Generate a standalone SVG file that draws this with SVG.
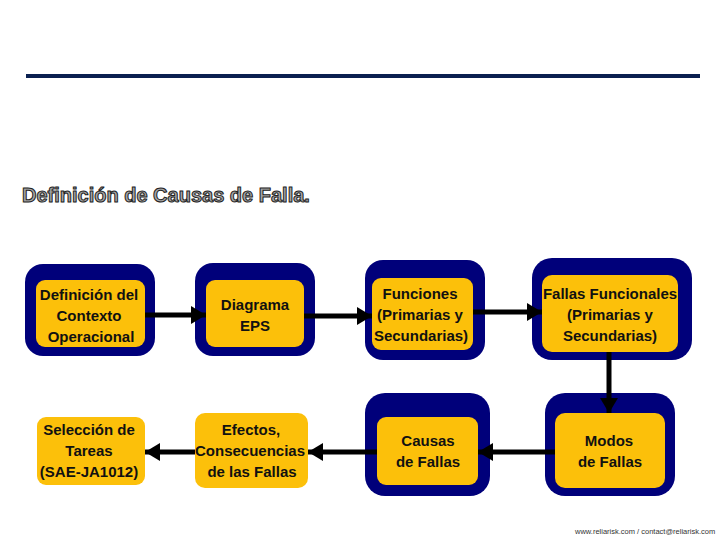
<svg xmlns="http://www.w3.org/2000/svg" width="720" height="540" viewBox="0 0 720 540">
<style>
.outer{fill:#00007a;}
.inner{fill:#fcc00a;}
.lbl{font-family:"Liberation Sans",Arial,sans-serif;font-weight:bold;font-size:15px;fill:#111;text-anchor:middle;}
.con{stroke:#000;stroke-width:5;fill:none;}
.title{font-family:"Liberation Sans",Arial,sans-serif;font-weight:bold;font-size:20px;fill:#a6a6a6;stroke:#222;stroke-width:1;}
.foot{font-family:"Liberation Sans",Arial,sans-serif;font-size:7.5px;fill:#333;}
</style>
<defs>
<marker id="ah" markerWidth="4" markerHeight="4" refX="3" refY="2" orient="auto" markerUnits="strokeWidth">
<path d="M0,0.2 L3,2 L0,3.8 Z" fill="#000"/>
</marker>
</defs>
<rect x="26" y="74" width="674" height="4" fill="#0a2050"/>
<text class="title" x="22" y="202">Definición de Causas de Falla.</text>

<g id="n1">
<rect class="outer" x="25" y="264" width="130" height="92" rx="18"/>
<rect class="inner" x="36" y="280" width="109" height="67" rx="9"/>
<text class="lbl" x="89" y="300">Definición del</text>
<text class="lbl" x="89" y="321">Contexto</text>
<text class="lbl" x="91" y="342">Operacional</text>
</g>
<g id="n2">
<rect class="outer" x="195" y="263" width="120" height="93" rx="18"/>
<rect class="inner" x="206" y="280" width="98" height="67" rx="9"/>
<text class="lbl" x="255" y="310">Diagrama</text>
<text class="lbl" x="255" y="331">EPS</text>
</g>
<g id="n3">
<rect class="outer" x="365" y="260" width="120" height="100" rx="18"/>
<rect class="inner" x="372" y="278" width="101" height="72" rx="9"/>
<text class="lbl" x="420" y="299">Funciones</text>
<text class="lbl" x="420" y="320">(Primarias y</text>
<text class="lbl" x="421" y="341">Secundarias)</text>
</g>
<g id="n4">
<rect class="outer" x="532" y="258" width="160" height="102" rx="20"/>
<rect class="inner" x="542" y="275" width="136" height="77" rx="10"/>
<text class="lbl" x="610" y="299">Fallas Funcionales</text>
<text class="lbl" x="610" y="320">(Primarias y</text>
<text class="lbl" x="610" y="341">Secundarias)</text>
</g>
<g id="n5">
<rect class="outer" x="545" y="393" width="130" height="103" rx="20"/>
<rect class="inner" x="555" y="413" width="110" height="75" rx="10"/>
<text class="lbl" x="609" y="446">Modos</text>
<text class="lbl" x="610" y="467">de Fallas</text>
</g>
<g id="n6">
<rect class="outer" x="365" y="393" width="125" height="103" rx="20"/>
<rect class="inner" x="377" y="417" width="101" height="68" rx="9"/>
<text class="lbl" x="428" y="446">Causas</text>
<text class="lbl" x="428" y="467">de Fallas</text>
</g>
<g id="n7">
<rect class="inner" x="195" y="413" width="113" height="75" rx="10"/>
<text class="lbl" x="251" y="435">Efectos,</text>
<text class="lbl" x="250" y="456">Consecuencias</text>
<text class="lbl" x="252" y="477">de las Fallas</text>
</g>
<g id="n8">
<rect class="inner" x="37" y="417" width="108" height="68" rx="9"/>
<text class="lbl" x="89" y="435">Selección de</text>
<text class="lbl" x="89" y="456">Tareas</text>
<text class="lbl" x="89" y="477">(SAE-JA1012)</text>
</g>

<g id="connectors">
<line class="con" x1="145" y1="315" x2="206" y2="315" marker-end="url(#ah)"/>
<line class="con" x1="304" y1="316" x2="372" y2="316" marker-end="url(#ah)"/>
<line class="con" x1="473" y1="312" x2="542" y2="312" marker-end="url(#ah)"/>
<line class="con" x1="609" y1="352" x2="609" y2="413" marker-end="url(#ah)"/>
<line class="con" x1="555" y1="452" x2="478" y2="452" marker-end="url(#ah)"/>
<line class="con" x1="377" y1="452" x2="308" y2="452" marker-end="url(#ah)"/>
<line class="con" x1="195" y1="452" x2="145" y2="452" marker-end="url(#ah)"/>
</g>

<text class="foot" x="575" y="534">www.reliarisk.com / contact@reliarisk.com</text>
</svg>
